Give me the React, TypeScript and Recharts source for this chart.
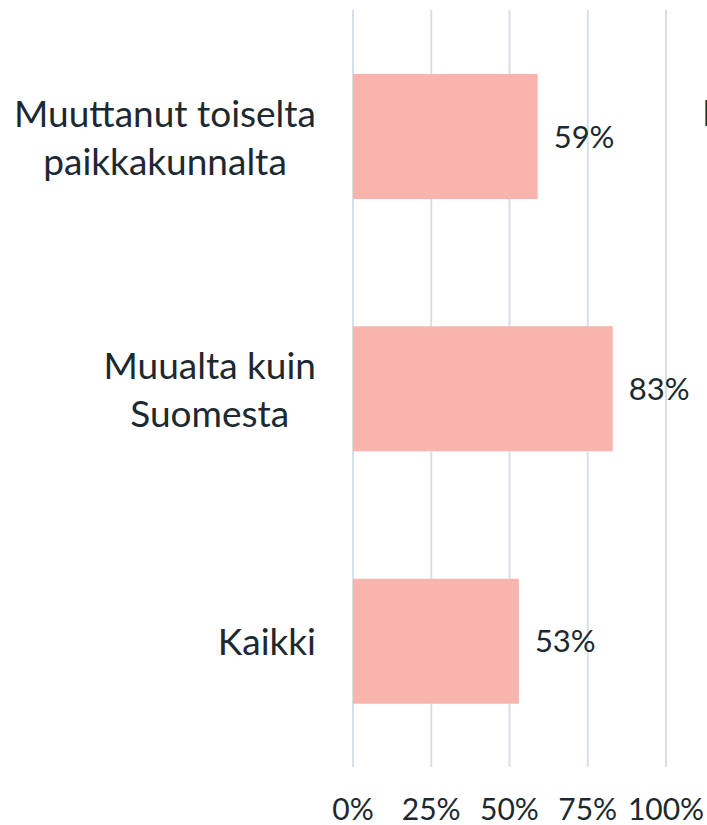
import React from 'react';
import { BarChart, Bar, XAxis, YAxis, CartesianGrid, LabelList } from 'recharts';

const categories = ['Muuttanut toiselta\npaikkakunnalta', 'Muualta kuin\nSuomesta', 'Kaikki'];
const shares = [59, 83, 53];
const xTicks = [0, 25, 50, 75, 100];

const data = categories.map((name, i) => ({ name, value: shares[i] }));

const FONT = 'Lato, "Noto Sans", sans-serif';
const TEXT = '#1d2930';

let ctx: CanvasRenderingContext2D | null = null;
const measure = (s: string, size: number) => {
  if (!ctx) ctx = document.createElement('canvas').getContext('2d');
  if (!ctx) return s.length * size * 0.5;
  ctx.font = `${size}px ${FONT}`;
  return ctx.measureText(s).width;
};

const CategoryTick = (props: any) => {
  const { x, y, payload } = props;
  const lines = String(payload.value).split('\n');
  const size = 37;
  const lh = 48;
  const w = Math.max(...lines.map(l => measure(l, size)));
  const cx = x - w / 2;
  const top = y - ((lines.length - 1) * lh) / 2;
  return (
    <text x={cx} y={top} textAnchor="middle" fill={TEXT} fontSize={size} fontFamily={FONT}>
      {lines.map((l, i) => (
        <tspan key={i} x={cx} y={top + i * lh} dominantBaseline="central">{l}</tspan>
      ))}
    </text>
  );
};

const PercentTick = (props: any) => {
  const { x, y, payload } = props;
  return (
    <text x={x} y={y + 33} textAnchor="middle" dominantBaseline="central" fill={TEXT} fontSize={30} fontFamily={FONT}>
      {`${payload.value}%`}
    </text>
  );
};

export default function App() {
  return (
    <div style={{ position: 'absolute', left: 0, top: 0, width: 707, height: 825, overflow: 'hidden', background: '#fff' }}>
      <BarChart
        width={707}
        height={825}
        data={data}
        layout="vertical"
        margin={{ top: 10, right: 41, bottom: 0, left: 0 }}
        barSize={125}
      >
        <CartesianGrid horizontal={false} stroke="#d6e0e9" strokeWidth={2} />
        <XAxis
          type="number"
          domain={[0, 100]}
          ticks={xTicks}
          axisLine={false}
          tickLine={false}
          height={58}
          tick={<PercentTick />}
          interval={0}
        />
        <YAxis
          type="category"
          dataKey="name"
          width={353}
          axisLine={false}
          tickLine={false}
          tickMargin={31}
          tick={<CategoryTick />}
          interval={0}
        />
        <Bar dataKey="value" fill="#fab4ae" isAnimationActive={false}>
          <LabelList
            dataKey="value"
            position="right"
            offset={16}
            formatter={(v: any) => `${v}%`}
            fill={TEXT}
            fontSize={31}
            fontFamily={FONT}
          />
        </Bar>
      </BarChart>
      <span
        style={{ position: 'absolute', left: 702, top: 88, fontFamily: FONT, fontSize: 37, color: TEXT, lineHeight: '48px', whiteSpace: 'nowrap' }}
      >
        Muuttanut
      </span>
    </div>
  );
}
